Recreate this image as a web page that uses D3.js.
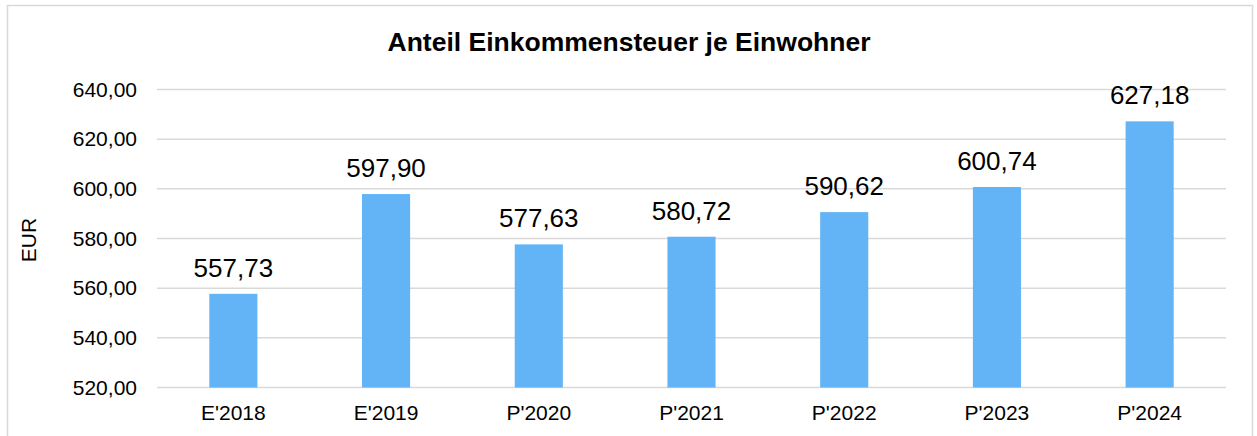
<!DOCTYPE html>
<html>
<head>
<meta charset="utf-8">
<script src="https://cdn.jsdelivr.net/npm/d3@7"></script>
<style>
  body { margin: 0; background: #fff; }
  svg { font-family: "Liberation Sans", Arial, sans-serif; }
</style>
</head>
<body>
<svg id="grafica"></svg>
<script>
const svg_w = 1257;
const svg_h = 436;

// datos del gráfico
const categorias = ["E'2018", "E'2019", "P'2020", "P'2021", "P'2022", "P'2023", "P'2024"];
const valores = [557.73, 597.90, 577.63, 580.72, 590.62, 600.74, 627.18];
const ticks_y = [520, 540, 560, 580, 600, 620, 640];
const titulo = "Anteil Einkommensteuer je Einwohner";
const titulo_y = "EUR";

// márgenes del área de gráfico
const margin = {l: 157, r: 31, t: 89.5, b: 48.5};

const de = d3.formatLocale({decimal: ",", thousands: ".", grouping: [3], currency: ["", " €"]});
const fmt = de.format(",.2f");

let svg = d3.select("#grafica")
  .attr("width", svg_w)
  .attr("height", svg_h);

// borde del gráfico
svg.append("rect")
  .attr("x", 7.5).attr("y", 5.5)
  .attr("width", 1245).attr("height", 440)
  .attr("fill", "#fff")
  .attr("stroke", "#d9d9d9")
  .attr("stroke-width", 1.5);

let x_scale = d3.scaleBand()
  .domain(categorias)
  .range([margin.l, svg_w - margin.r])
  .paddingInner(0.685)
  .paddingOuter(0.3425);

let y_scale = d3.scaleLinear()
  .domain([520, 640])
  .range([svg_h - margin.b, margin.t]);

// líneas de cuadrícula
svg.append("g")
  .selectAll("line")
  .data(ticks_y)
  .enter()
  .append("line")
  .attr("x1", margin.l)
  .attr("x2", svg_w - margin.r)
  .attr("y1", d => y_scale(d))
  .attr("y2", d => y_scale(d))
  .attr("stroke", "#d9d9d9")
  .attr("stroke-width", 1.5);

// eje y
let y_axis = svg.append("g")
  .attr("transform", `translate(${margin.l - 20},0)`)
  .call(d3.axisLeft(y_scale).tickValues(ticks_y).tickFormat(fmt).tickSize(0).tickPadding(0));
y_axis.select(".domain").remove();
y_axis.selectAll("text")
  .attr("font-size", 21)
  .attr("font-family", "Liberation Sans, Arial, sans-serif")
  .attr("fill", "#000");

// eje x
let x_axis = svg.append("g")
  .attr("transform", `translate(0,${svg_h - margin.b})`)
  .call(d3.axisBottom(x_scale).tickSize(0).tickPadding(18));
x_axis.select(".domain").remove();
x_axis.selectAll("text")
  .attr("font-size", 21)
  .attr("font-family", "Liberation Sans, Arial, sans-serif")
  .attr("fill", "#000");

// barras
svg.append("g")
  .selectAll("rect")
  .data(valores)
  .enter()
  .append("rect")
  .attr("x", (d, i) => x_scale(categorias[i]))
  .attr("y", d => y_scale(d))
  .attr("width", x_scale.bandwidth())
  .attr("height", d => y_scale(520) - y_scale(d))
  .attr("fill", "#63b4f6");

// etiquetas de valores
svg.append("g")
  .selectAll("text")
  .data(valores)
  .enter()
  .append("text")
  .attr("x", (d, i) => x_scale(categorias[i]) + x_scale.bandwidth() / 2)
  .attr("y", d => y_scale(d) - 17)
  .attr("text-anchor", "middle")
  .attr("font-size", 26)
  .attr("fill", "#000")
  .text(d => fmt(d));

// título
svg.append("text")
  .attr("x", 629)
  .attr("y", 51)
  .attr("text-anchor", "middle")
  .attr("font-size", 26.5)
  .attr("font-weight", "bold")
  .attr("fill", "#000")
  .text(titulo);

// título del eje y
svg.append("text")
  .attr("transform", `translate(36,240) rotate(-90)`)
  .attr("text-anchor", "middle")
  .attr("font-size", 21)
  .attr("fill", "#000")
  .text(titulo_y);
</script>
</body>
</html>
